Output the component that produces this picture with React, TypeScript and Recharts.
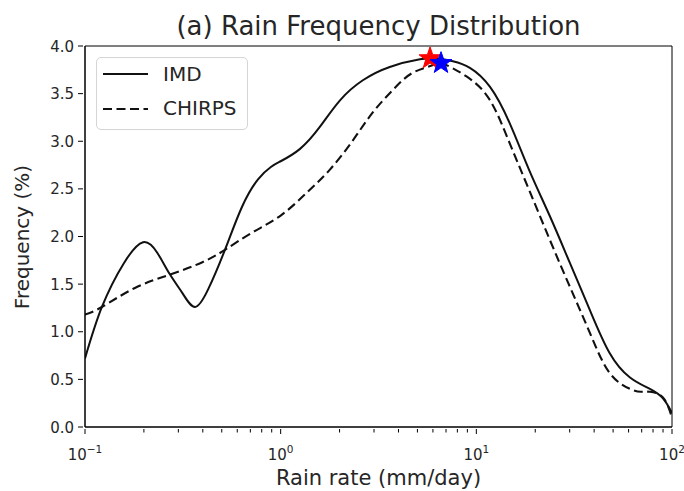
import React from 'react';
import { ComposedChart, Line, Scatter, XAxis, YAxis, ReferenceArea } from 'recharts';

// IMD (solid) curve
const imdX = [0.1, 0.122, 0.158, 0.198, 0.234, 0.272, 0.316, 0.365, 0.427, 0.519, 0.634, 0.766, 0.891, 1.0, 1.256, 1.585, 2.01, 2.63, 3.61, 5.15, 6.31, 7.59, 9.27, 11.75, 14.8, 18.6, 23.8, 30.1, 38.0, 47.9, 61.0, 77.1, 89.9, 100];
const imdY = [0.72, 1.26, 1.72, 1.94, 1.83, 1.60, 1.40, 1.26, 1.45, 1.86, 2.31, 2.60, 2.73, 2.79, 2.92, 3.15, 3.43, 3.64, 3.78, 3.86, 3.87, 3.84, 3.77, 3.57, 3.19, 2.70, 2.21, 1.72, 1.23, 0.78, 0.52, 0.40, 0.30, 0.15];

// CHIRPS (dashed) curve
const chirpsX = [0.1, 0.122, 0.18, 0.272, 0.398, 0.519, 0.713, 1.0, 1.36, 1.78, 2.34, 2.95, 3.75, 4.74, 6.0, 6.67, 8.91, 11.75, 14.8, 18.6, 23.8, 30.1, 38.0, 47.9, 61.0, 69.2, 77.1, 89.9, 100];
const chirpsY = [1.18, 1.26, 1.46, 1.60, 1.73, 1.86, 2.04, 2.22, 2.46, 2.70, 3.01, 3.30, 3.54, 3.72, 3.80, 3.82, 3.68, 3.43, 2.98, 2.49, 1.96, 1.47, 0.99, 0.57, 0.40, 0.37, 0.37, 0.31, 0.10];

// Peak markers
const imdPeak = [{ x: 5.8, y: 3.87 }];
const chirpsPeak = [{ x: 6.6, y: 3.82 }];

// Axis ticks
const xMajorTicks = [0.1, 1, 10, 100];
const xMajorLabels = ['\u22121', '0', '1', '2'];
const xMinorMultipliers = [2, 3, 4, 5, 6, 7, 8, 9];
const yTicks = [0, 0.5, 1, 1.5, 2, 2.5, 3, 3.5, 4];

const imdData = imdX.map((x, i) => ({ x, y: imdY[i] }));
const chirpsData = chirpsX.map((x, i) => ({ x, y: chirpsY[i] }));

const allXTicks: number[] = [];
xMajorTicks.forEach((m, i) => {
  allXTicks.push(m);
  if (i < xMajorTicks.length - 1) xMinorMultipliers.forEach((k) => allXTicks.push(+(m * k).toPrecision(6)));
});

const FONT = '"DejaVu Sans", sans-serif';
const TXT = '#262626';

const XTick = (props: any) => {
  const { x, y, payload } = props;
  const v = payload.value;
  const idx = xMajorTicks.findIndex((m) => Math.abs(m - v) < 1e-9);
  const major = idx >= 0;
  return (
    <g>
      <line x1={x} x2={x} y1={y} y2={y + (major ? 5 : 3.5)} stroke="#000" strokeWidth={1} />
      {major && (
        <text x={x} y={y + 31} textAnchor="middle" fontSize={15} fontFamily={FONT} fill={TXT}>
          10<tspan dy={-7} fontSize={10.5}>{xMajorLabels[idx]}</tspan>
        </text>
      )}
    </g>
  );
};

const YTick = (props: any) => {
  const { x, y, payload } = props;
  return (
    <g>
      <line x1={x - 5} x2={x} y1={y} y2={y} stroke="#000" strokeWidth={1} />
      <text x={x - 9} y={y + 5.5} textAnchor="end" fontSize={15} fontFamily={FONT} fill={TXT}>
        {Number(payload.value).toFixed(1)}
      </text>
    </g>
  );
};

const starPoints = (cx: number, cy: number, R: number, r: number) => {
  const pts: string[] = [];
  for (let i = 0; i < 10; i++) {
    const a = -Math.PI / 2 + (i * Math.PI) / 5;
    const rad = i % 2 === 0 ? R : r;
    pts.push(`${cx + rad * Math.cos(a)},${cy + rad * Math.sin(a)}`);
  }
  return pts.join(' ');
};

const makeStar = (color: string) => (props: any) => {
  const { cx, cy } = props;
  if (cx == null || cy == null) return <g />;
  return <polygon points={starPoints(cx, cy, 11.5, 4.6)} fill={color} stroke={color} strokeWidth={1} />;
};

export default function App() {
  return (
    <div style={{ position: 'absolute', left: 0, top: 0, width: 684, height: 491, background: '#fff' }}>
      <ComposedChart width={684} height={491} margin={{ top: 46, right: 12, left: 0, bottom: 0 }}>
        <XAxis
          type="number"
          dataKey="x"
          scale="log"
          domain={[0.1, 100]}
          ticks={allXTicks}
          interval={0}
          tickSize={0}
          tickLine={false}
          tick={<XTick />}
          axisLine={{ stroke: '#000' }}
          allowDataOverflow
          height={64}
        />
        <YAxis
          type="number"
          dataKey="y"
          domain={[0, 4]}
          ticks={yTicks}
          interval={0}
          tickSize={0}
          tickLine={false}
          tick={<YTick />}
          axisLine={{ stroke: '#000' }}
          allowDataOverflow
          width={85}
        />
        <ReferenceArea x1={0.1} x2={100} y1={0} y2={4} fill="none" stroke="#000" strokeWidth={1} ifOverflow="visible" />
        <Line data={imdData} dataKey="y" type="natural" stroke="#111" strokeWidth={2} dot={false} isAnimationActive={false} />
        <Line data={chirpsData} dataKey="y" type="natural" stroke="#111" strokeWidth={2.1} strokeDasharray="9 4.5" dot={false} isAnimationActive={false} />
        <Scatter data={imdPeak} dataKey="y" shape={makeStar('#ff0000')} isAnimationActive={false} />
        <Scatter data={chirpsPeak} dataKey="y" shape={makeStar('#0000ff')} isAnimationActive={false} />
      </ComposedChart>
      <div style={{ position: 'absolute', left: 0, top: 11, width: 684, paddingLeft: 73, boxSizing: 'border-box', textAlign: 'center', fontFamily: FONT, fontSize: 26, color: TXT, lineHeight: '31px', whiteSpace: 'nowrap' }}>
        (a) Rain Frequency Distribution
      </div>
      <div style={{ position: 'absolute', left: 85, width: 587, top: 466, textAlign: 'center', fontFamily: FONT, fontSize: 21, color: TXT, lineHeight: '25px', whiteSpace: 'nowrap' }}>
        Rain rate (mm/day)
      </div>
      <div style={{ position: 'absolute', left: 22, top: 237, width: 0, height: 0 }}>
        <div style={{ position: 'absolute', left: -100, top: -12, width: 200, textAlign: 'center', transform: 'rotate(-90deg)', fontFamily: FONT, fontSize: 20, color: TXT, lineHeight: '24px', whiteSpace: 'nowrap' }}>
          Frequency (%)
        </div>
      </div>
      <div style={{ position: 'absolute', left: 96, top: 57, width: 152, height: 73, boxSizing: 'border-box', border: '1px solid #d5d5d5', borderRadius: 5, background: 'rgba(255,255,255,0.8)', fontFamily: FONT, fontSize: 20, color: TXT }}>
        <svg width={50} height={30} style={{ position: 'absolute', left: 5, top: 0 }}>
          <line x1={1} x2={46} y1={16} y2={16} stroke="#111" strokeWidth={2.2} />
        </svg>
        <svg width={50} height={12} style={{ position: 'absolute', left: 5, top: 45 }}>
          <line x1={1} x2={46} y1={6} y2={6} stroke="#111" strokeWidth={2.2} strokeDasharray="9 4.5" />
        </svg>
        <div style={{ position: 'absolute', left: 66, top: 4, lineHeight: '24px', whiteSpace: 'nowrap' }}>IMD</div>
        <div style={{ position: 'absolute', left: 66, top: 38, lineHeight: '24px', whiteSpace: 'nowrap' }}>CHIRPS</div>
      </div>
    </div>
  );
}
